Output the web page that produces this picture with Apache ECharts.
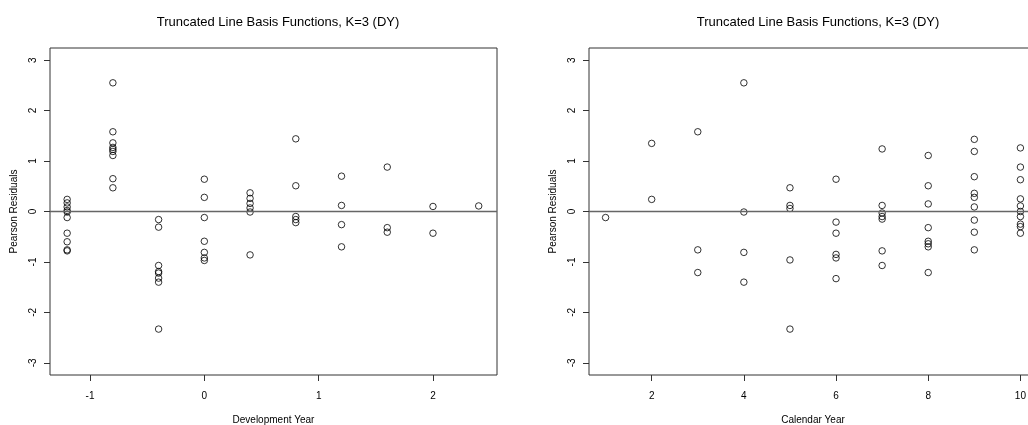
<!DOCTYPE html>
<html>
<head>
<meta charset="utf-8">
<script src="https://cdn.jsdelivr.net/npm/echarts@6/dist/echarts.min.js"></script>
<style>
  html, body { margin: 0; padding: 0; background: #fff; }
  #main { width: 1028px; height: 425px; }
</style>
</head>
<body>
<div id="main"></div>
<script>
// development year (standardised) and the residuals in each column
var devYears = [-1.2, -0.8, -0.4, 0, 0.4, 0.8, 1.2, 1.6, 2.0, 2.4];
var devResiduals = [
    [0.24, 0.17, 0.09, 0.02, -0.01, -0.12, -0.43, -0.60, -0.76, -0.78],
    [2.55, 1.58, 1.36, 1.27, 1.23, 1.19, 1.11, 0.65, 0.47],
    [-0.16, -0.31, -1.07, -1.19, -1.22, -1.32, -1.40, -2.33],
    [0.64, 0.28, -0.12, -0.59, -0.81, -0.92, -0.97],
    [0.37, 0.26, 0.16, 0.07, -0.01, -0.86],
    [1.44, 0.51, -0.10, -0.16, -0.22],
    [0.70, 0.12, -0.26, -0.70],
    [0.88, -0.32, -0.41],
    [0.10, -0.43],
    [0.11]
];

// calendar year and the residuals in each column
var calYears = [1, 2, 3, 4, 5, 6, 7, 8, 9, 10];
var calResiduals = [
    [-0.12],
    [1.35, 0.24],
    [1.58, -0.76, -1.21],
    [2.55, -0.01, -0.81, -1.40],
    [0.47, 0.12, 0.06, -0.96, -2.33],
    [0.64, -0.21, -0.43, -0.85, -0.92, -1.33],
    [1.24, 0.12, -0.03, -0.10, -0.15, -0.78, -1.07],
    [1.11, 0.51, 0.15, -0.32, -0.59, -0.64, -0.70, -1.21],
    [1.43, 1.19, 0.69, 0.36, 0.28, 0.09, -0.17, -0.41, -0.76],
    [1.26, 0.88, 0.63, 0.25, 0.11, 0.00, -0.10, -0.25, -0.30, -0.43]
];

var yTicks = [-3, -2, -1, 0, 1, 2, 3];
var devTicks = [-1, 0, 1, 2];
var calTicks = [2, 4, 6, 8, 10];
var plotTitle = 'Truncated Line Basis Functions, K=3 (DY)';

function toPoints(xs, cols) {
    var pts = [];
    xs.forEach(function(x, i) {
        cols[i].forEach(function(v) {
            pts.push([x, v]);
        });
    });
    return pts;
}

var font = 'Liberation Sans, Arial, sans-serif';
var frame = '#333';

function xAx(idx, min, max, ticks, name) {
    return {
        type: 'value', gridIndex: idx, min: min, max: max,
        splitLine: { show: false },
        axisLine: { show: false, onZero: false },
        axisTick: { show: true, length: 6, customValues: ticks, lineStyle: { color: frame } },
        axisLabel: { customValues: ticks, margin: 16, fontSize: 10, color: '#000', fontFamily: font },
        name: name, nameLocation: 'middle', nameGap: 40,
        nameTextStyle: { fontSize: 10, color: '#000', fontFamily: font }
    };
}

function yAx(idx) {
    return {
        type: 'value', gridIndex: idx, min: -3.24, max: 3.24,
        splitLine: { show: false },
        axisLine: { show: false, onZero: false },
        axisTick: { show: true, length: 6, customValues: yTicks, lineStyle: { color: frame } },
        axisLabel: { customValues: yTicks, rotate: 90, margin: 12, fontSize: 10, color: '#000', fontFamily: font },
        name: 'Pearson Residuals', nameLocation: 'middle', nameGap: 31,
        nameTextStyle: { fontSize: 10, color: '#000', fontFamily: font }
    };
}

function scatter(idx, pts) {
    return {
        type: 'scatter', xAxisIndex: idx, yAxisIndex: idx,
        data: pts,
        symbol: 'circle', symbolSize: 6.5,
        itemStyle: { color: 'rgba(0,0,0,0)', borderColor: '#000', borderWidth: 1 },
        markLine: {
            silent: true, symbol: 'none', animation: false,
            label: { show: false },
            lineStyle: { color: '#666', type: 'solid', width: 1.3 },
            data: [{ yAxis: 0 }]
        }
    };
}

var chart = echarts.init(document.getElementById('main'));
chart.setOption({
    animation: false,
    backgroundColor: '#fff',
    title: [
        { text: plotTitle, left: 273, top: 11, textAlign: 'center',
          textStyle: { fontSize: 13, fontWeight: 'normal', color: '#000', fontFamily: font } },
        { text: plotTitle, left: 813, top: 11, textAlign: 'center',
          textStyle: { fontSize: 13, fontWeight: 'normal', color: '#000', fontFamily: font } }
    ],
    grid: [
        { left: 50, top: 48, width: 447, height: 327, outerBoundsMode: 'none', containLabel: false,
          show: true, borderColor: frame, borderWidth: 1 },
        { left: 589, top: 48, width: 448, height: 327, outerBoundsMode: 'none', containLabel: false,
          show: true, borderColor: frame, borderWidth: 1 }
    ],
    xAxis: [
        xAx(0, -1.35, 2.56, devTicks, 'Development Year'),
        xAx(1, 0.64, 10.36, calTicks, 'Calendar Year')
    ],
    yAxis: [yAx(0), yAx(1)],
    series: [
        scatter(0, toPoints(devYears, devResiduals)),
        scatter(1, toPoints(calYears, calResiduals))
    ]
});
</script>
</body>
</html>
